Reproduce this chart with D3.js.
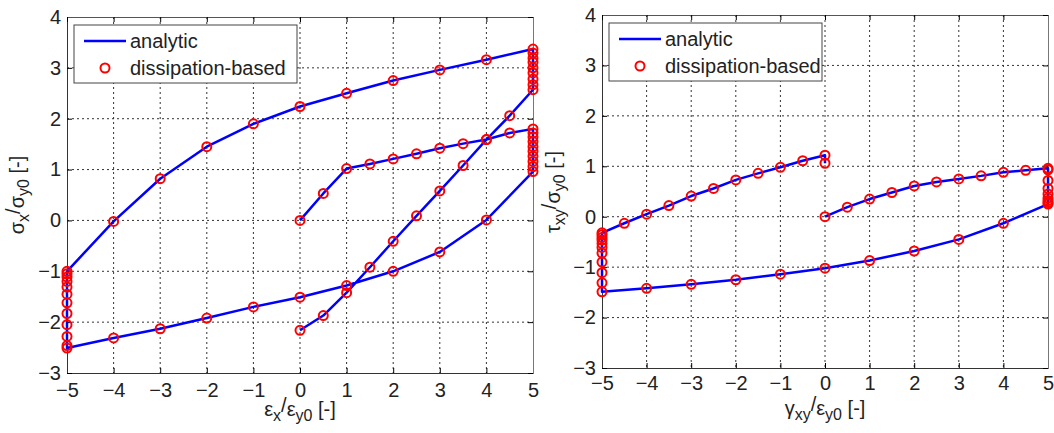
<!DOCTYPE html>
<html>
<head>
<meta charset="utf-8">
<script src="https://cdn.jsdelivr.net/npm/d3@7"></script>
<style>
  body { margin: 0; background: #fff; }
  text { font-family: "Liberation Sans", Arial, sans-serif; fill: #222; }
</style>
</head>
<body>
<svg width="1054" height="433"></svg>
<script>
// Panel 1: normal stress vs normal strain (load path)
const strainX = [0, 0.5, 1, 1.5, 2, 2.5, 3, 3.5, 4, 4.5, 5,
  5, 5, 5, 5, 5, 5, 5, 5, 5,
  4, 3, 2, 1, 0, -1, -2, -3, -4, -5,
  -5, -5, -5, -5, -5, -5, -5, -5, -5, -5, -5,
  -4, -3, -2, -1, 0, 1, 2, 3, 4, 5,
  5, 5, 5, 5, 5, 5, 5, 5,
  4.5, 4, 3.5, 3, 2.5, 2, 1.5, 1, 0.5, 0];
const stressX = [0, 0.53, 1.02, 1.11, 1.21, 1.31, 1.42, 1.51, 1.59, 1.72, 1.80,
  1.72, 1.64, 1.55, 1.45, 1.36, 1.26, 1.16, 1.06, 0.96,
  0.01, -0.62, -1.00, -1.28, -1.51, -1.70, -1.92, -2.13, -2.31, -2.51,
  -2.46, -2.28, -2.05, -1.83, -1.62, -1.45, -1.31, -1.20, -1.11, -1.05, -1.00,
  -0.02, 0.82, 1.45, 1.90, 2.24, 2.50, 2.75, 2.96, 3.16, 3.37,
  3.29, 3.19, 3.11, 3.00, 2.90, 2.78, 2.67, 2.57,
  2.06, 1.59, 1.08, 0.58, 0.09, -0.41, -0.92, -1.42, -1.87, -2.16];

// Panel 2: shear stress vs shear strain
const strainXY = [0, 0.5, 1, 1.5, 2, 2.5, 3, 3.5, 4, 4.5, 5,
  5, 5, 5, 5, 5, 5, 5, 5,
  4, 3, 2, 1, 0, -1, -2, -3, -4, -5,
  -5, -5, -5, -5, -5, -5, -5, -5, -5, -5,
  -4.5, -4, -3.5, -3, -2.5, -2, -1.5, -1, -0.5, 0, 0];
const stressXY = [0, 0.19, 0.35, 0.48, 0.61, 0.69, 0.75, 0.81, 0.88, 0.92, 0.96,
  0.93, 0.72, 0.56, 0.45, 0.37, 0.32, 0.28, 0.25,
  -0.13, -0.45, -0.68, -0.87, -1.02, -1.14, -1.25, -1.34, -1.42, -1.49,
  -1.31, -1.11, -0.90, -0.72, -0.61, -0.53, -0.46, -0.41, -0.36, -0.32,
  -0.13, 0.05, 0.22, 0.41, 0.56, 0.73, 0.86, 0.98, 1.11, 1.22, 1.06];

const xTicks = [-5, -4, -3, -2, -1, 0, 1, 2, 3, 4, 5];
const yTicks = [-3, -2, -1, 0, 1, 2, 3, 4];
const legendLabels = ["analytic", "dissipation-based"];

const svg = d3.select("svg");

function drawPanel(p) {
  const x = d3.scaleLinear().domain([-5, 5]).range([p.left, p.right]);
  const y = d3.scaleLinear().domain([-3, 4]).range([p.bottom, p.top]);
  const g = svg.append("g");

  // grid
  g.append("g").selectAll("line").data(xTicks.slice(1, -1)).join("line")
    .attr("x1", d => x(d)).attr("x2", d => x(d))
    .attr("y1", p.top).attr("y2", p.bottom)
    .attr("stroke", "#333").attr("stroke-dasharray", "2,3").attr("stroke-width", 1);
  g.append("g").selectAll("line").data(yTicks.slice(1, -1)).join("line")
    .attr("y1", d => y(d)).attr("y2", d => y(d))
    .attr("x1", p.left).attr("x2", p.right)
    .attr("stroke", "#333").attr("stroke-dasharray", "2,3").attr("stroke-width", 1);

  // axes (ticks inward, MATLAB style)
  g.append("g").attr("transform", `translate(0,${p.bottom})`)
    .call(d3.axisBottom(x).tickValues(xTicks).tickSize(-5).tickPadding(p.xPad).tickFormat(d3.format("d")))
    .call(a => a.select(".domain").attr("stroke", "#333"))
    .call(a => a.selectAll("text").attr("font-size", 20).attr("font-family", "Liberation Sans, Arial").attr("fill", "#222"));
  g.append("g").attr("transform", `translate(${p.left},0)`)
    .call(d3.axisLeft(y).tickValues(yTicks).tickSize(-5).tickPadding(6).tickFormat(d3.format("d")))
    .call(a => a.select(".domain").attr("stroke", "#333"))
    .call(a => a.selectAll("text").attr("font-size", 20).attr("font-family", "Liberation Sans, Arial").attr("fill", "#222"));
  g.append("g").attr("transform", `translate(0,${p.top})`)
    .call(d3.axisTop(x).tickValues(xTicks).tickSize(-5).tickFormat(""))
    .call(a => a.select(".domain").attr("stroke", "#555"));
  g.append("g").attr("transform", `translate(${p.right},0)`)
    .call(d3.axisRight(y).tickValues(yTicks).tickSize(-5).tickFormat(""))
    .call(a => a.select(".domain").attr("stroke", "#777"));

  // analytic line
  const line = d3.line().x(d => x(d[0])).y(d => y(d[1]));
  const pts = p.xs.map((v, i) => [v, p.ys[i]]);
  g.append("path").datum(pts)
    .attr("d", line).attr("fill", "none")
    .attr("stroke", "#0000ff").attr("stroke-width", 2.5).attr("stroke-linejoin", "round");

  // dissipation-based markers
  g.append("g").selectAll("circle").data(pts).join("circle")
    .attr("cx", d => x(d[0])).attr("cy", d => y(d[1])).attr("r", 4.5)
    .attr("fill", "none").attr("stroke", "#ff0000").attr("stroke-width", 2);

  // legend
  const L = p.legend;
  const lg = g.append("g");
  lg.append("rect").attr("x", L.x).attr("y", L.y).attr("width", L.w).attr("height", L.h)
    .attr("fill", "#fff").attr("stroke", "#444").attr("stroke-width", 1);
  lg.append("line").attr("x1", L.x + 10).attr("x2", L.x + 52)
    .attr("y1", L.y + 16).attr("y2", L.y + 16)
    .attr("stroke", "#0000ff").attr("stroke-width", 2.5);
  lg.append("circle").attr("cx", L.x + 31).attr("cy", L.y + 43).attr("r", 4.5)
    .attr("fill", "none").attr("stroke", "#ff0000").attr("stroke-width", 2);
  lg.selectAll("text").data(legendLabels).join("text")
    .attr("x", L.x + 56).attr("y", (d, i) => L.y + 23 + i * 27)
    .attr("font-size", 20).text(d => d);

  // axis titles
  const xt = g.append("text").attr("x", p.xTitle[0]).attr("y", p.xTitle[1])
    .attr("text-anchor", "middle").attr("font-size", 20);
  p.xParts.forEach(t => xt.append("tspan").attr("font-size", t[2] || 20).attr("dy", t[1]).text(t[0]));

  const yt = g.append("text")
    .attr("transform", `translate(${p.yTitle[0]},${p.yTitle[1]}) rotate(-90)`)
    .attr("text-anchor", "middle").attr("font-size", 20);
  p.yParts.forEach(t => yt.append("tspan").attr("font-size", t[2] || 20).attr("dy", t[1]).text(t[0]));
}

drawPanel({
  left: 67, right: 533, top: 17, bottom: 373, xPad: 10,
  xs: strainX, ys: stressX,
  legend: {x: 74, y: 25, w: 223, h: 58},
  xTitle: [300, 416],
  xParts: [["ε", 0], ["x", 5, 16], ["/", -9], ["ε", 4], ["y0", 5, 16], [" [-]", -5]],
  yTitle: [24, 195],
  yParts: [["σ", 0], ["x", 5, 16], ["/", -9], ["σ", 4], ["y0", 5, 16], [" [-]", -5]]
});

drawPanel({
  left: 602, right: 1048, top: 15, bottom: 368, xPad: 8,
  xs: strainXY, ys: stressXY,
  legend: {x: 609, y: 23, w: 213, h: 58},
  xTitle: [825, 415],
  xParts: [["γ", 0], ["xy", 5, 16], ["/", -9], ["ε", 4], ["y0", 5, 16], [" [-]", -5]],
  yTitle: [560, 192],
  yParts: [["τ", 0], ["xy", 5, 16], ["/", -9], ["σ", 4], ["y0", 5, 16], [" [-]", -5]]
});
</script>
</body>
</html>
